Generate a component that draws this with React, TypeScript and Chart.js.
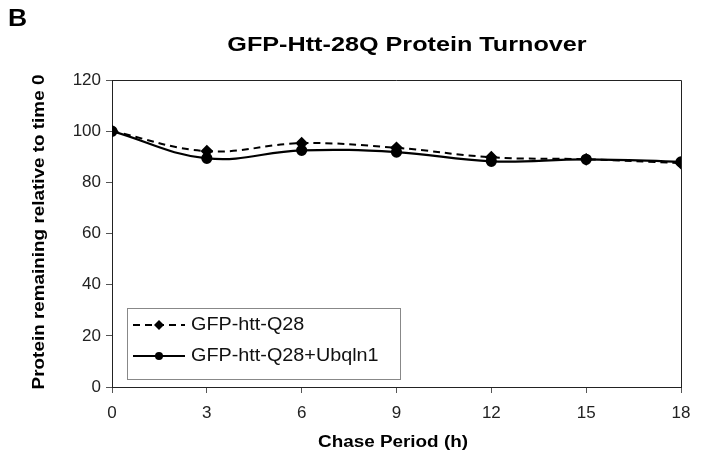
import React, { useEffect, useRef } from "react";
import { Chart, registerables } from "chart.js";

Chart.register(...registerables);

const chaseHours = [0, 3, 6, 9, 12, 15, 18];
const q28Values = [100, 92.2, 95.3, 93.5, 89.8, 89, 87.5];
const q28UbqValues = [100, 89.4, 92.5, 91.8, 88.2, 89, 88];
const seriesLabels = ["GFP-htt-Q28", "GFP-htt-Q28+Ubqln1"];
const chartTitle = "GFP-Htt-28Q Protein Turnover";
const panelLetter = "B";
const xTitle = "Chase Period (h)";
const yTitle = "Protein remaining relative to time 0";

const FONT = "'Liberation Sans', Arial, sans-serif";

function drawText(
  ctx: CanvasRenderingContext2D,
  text: string,
  x: number,
  y: number,
  font: string,
  sx: number,
  align: CanvasTextAlign,
  rotate = 0
) {
  ctx.save();
  ctx.translate(x, y);
  if (rotate) ctx.rotate(rotate);
  ctx.scale(sx, 1);
  ctx.font = font;
  ctx.textAlign = align;
  ctx.textBaseline = "middle";
  ctx.fillText(text, 0, 0);
  ctx.restore();
}

const decorPlugin = {
  id: "decor",
  afterDraw(chart: any) {
    const ctx = chart.ctx as CanvasRenderingContext2D;
    const a = chart.chartArea;
    ctx.save();
    ctx.strokeStyle = "#222";
    ctx.lineWidth = 1;
    ctx.beginPath();
    ctx.moveTo(a.left, a.top + 0.5);
    ctx.lineTo(a.right + 0.5, a.top + 0.5);
    ctx.lineTo(a.right + 0.5, a.bottom);
    ctx.stroke();

    ctx.fillStyle = "#000";
    drawText(ctx, panelLetter, 8, 20, `bold 23px ${FONT}`, 1.15, "left");
    drawText(ctx, chartTitle, 407, 45, `bold 21px ${FONT}`, 1.2, "center");
    drawText(ctx, xTitle, 393, 443, `bold 16px ${FONT}`, 1.18, "center");
    drawText(ctx, yTitle, 40, 232, `bold 16px ${FONT}`, 1.18, "center", -Math.PI / 2);

    // legend
    const bx = 127, by = 308, bw = 273, bh = 71;
    ctx.strokeStyle = "#888";
    ctx.lineWidth = 1;
    ctx.fillStyle = "#fff";
    ctx.fillRect(bx, by, bw, bh);
    ctx.strokeRect(bx + 0.5, by + 0.5, bw, bh);
    const rows = [325, 356];
    chart.data.datasets.forEach((ds: any, i: number) => {
      const y = rows[i];
      ctx.strokeStyle = "#000";
      ctx.lineWidth = 2;
      ctx.setLineDash(ds.borderDash || []);
      ctx.beginPath();
      ctx.moveTo(133, y);
      ctx.lineTo(185, y);
      ctx.stroke();
      ctx.setLineDash([]);
      ctx.fillStyle = "#000";
      ctx.beginPath();
      if (ds.pointStyle === "rectRot") {
        ctx.moveTo(159, y - 5);
        ctx.lineTo(164, y);
        ctx.lineTo(159, y + 5);
        ctx.lineTo(154, y);
        ctx.closePath();
      } else {
        ctx.arc(159, y, 4, 0, Math.PI * 2);
      }
      ctx.fill();
      ctx.fillStyle = "#111";
      drawText(ctx, ds.label, 191, y, `18px ${FONT}`, 1.1, "left");
    });
    ctx.restore();
  },
};

export default function App() {
  const ref = useRef<HTMLCanvasElement | null>(null);
  useEffect(() => {
    if (!ref.current) return;
    const chart = new Chart(ref.current, {
      type: "line",
      data: {
        datasets: [
          {
            label: seriesLabels[0],
            data: chaseHours.map((h, i) => ({ x: h, y: q28Values[i] })),
            borderColor: "#000",
            backgroundColor: "#000",
            borderWidth: 2,
            borderDash: [7, 5],
            pointStyle: "rectRot",
            pointRadius: 5,
            tension: 0.4,
          },
          {
            label: seriesLabels[1],
            data: chaseHours.map((h, i) => ({ x: h, y: q28UbqValues[i] })),
            borderColor: "#000",
            backgroundColor: "#000",
            borderWidth: 2.2,
            pointStyle: "circle",
            pointRadius: 4.5,
            tension: 0.4,
          },
        ],
      },
      options: {
        animation: false,
        responsive: false,
        layout: { padding: { left: 0, right: 23, top: 80, bottom: 0 } },
        plugins: { legend: { display: false }, title: { display: false }, tooltip: { enabled: false } },
        scales: {
          x: {
            type: "linear",
            min: 0,
            max: 18,
            ticks: { stepSize: 3, font: { family: FONT, size: 17 }, color: "#222", padding: 10 },
            grid: { drawOnChartArea: false, color: "#555", tickLength: 6 },
            border: { color: "#222", width: 1 },
            afterFit: (s: any) => { s.height = 70; },
          },
          y: {
            min: 0,
            max: 120,
            ticks: { stepSize: 20, font: { family: FONT, size: 17 }, color: "#222", padding: 5 },
            grid: { drawOnChartArea: false, color: "#555", tickLength: 6 },
            border: { color: "#222", width: 1 },
            afterFit: (s: any) => { s.width = 112; },
          },
        },
      },
      plugins: [decorPlugin],
    } as any);
    return () => chart.destroy();
  }, []);
  return (
    <div style={{ position: "fixed", left: 0, top: 0, width: 704, height: 457, background: "#fff" }}>
      <canvas ref={ref} width={704} height={457} style={{ width: 704, height: 457 }} />
    </div>
  );
}
